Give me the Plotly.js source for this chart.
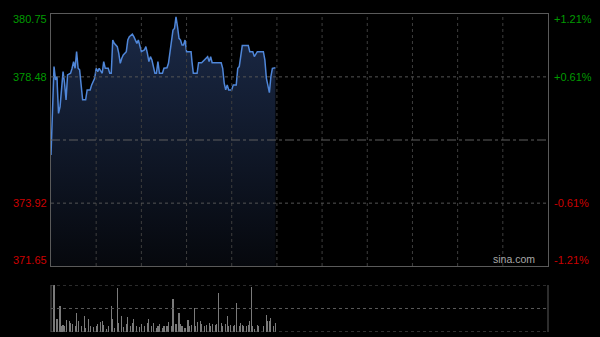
<!DOCTYPE html>
<html>
<head>
<meta charset="utf-8">
<script src="https://cdn.plot.ly/plotly-3.0.1.min.js"></script>
<style>
html,body{margin:0;padding:0;background:#000;}
#chart{width:600px;height:337px;}
</style>
</head>
<body>
<div id="chart"></div>
<script>
// Intraday (HK session, minutes since 09:30, lunch removed; 330 minutes total)
const prevClose = 376.20;
const priceLabelsLeft = ["380.75", "378.48", "373.92", "371.65"];
const priceLevels = [380.75, 378.48, 373.92, 371.65];
const pctLabelsRight = ["+1.21%", "+0.61%", "-0.61%", "-1.21%"];

const priceMinutes = [0,2,3,4,4.2,5,6,7,8,9,10,11,13,14,15,16,17,18,19,21,23,24,26,27,29,30,31,32,34,35,36,38,39,40,41,42,44,45,46,47,48,50,51,52,54,55,56,57,58,59,60,62,63,64,65,66,67,68,69,70,71,72,74,75,77,78,79,80,81,82,83,84,85,86,87,88,89,90,91,93,93.6,94.5,97,98,100,103,104,105,106,107,113,114,115,116,117,118,120,121,123,124,125,127,131,132,134,135,137,141,142,143,144,145,146,147,149];
const prices = [375.66,378.85,378.37,378.49,378.13,377.16,377.40,378.13,378.67,378.25,377.65,378.55,378.61,378.79,379.03,378.79,379.39,378.79,378.73,377.65,377.65,378.01,378.01,378.19,378.43,378.79,378.67,378.79,378.61,379.03,378.79,378.79,378.61,378.61,379.81,379.69,379.57,379.33,378.97,379.15,379.27,379.39,379.81,379.93,380.02,379.93,379.79,379.69,379.81,379.63,379.39,379.45,379.57,379.33,379.03,379.21,379.09,378.85,378.61,378.61,379.03,378.61,378.61,378.79,378.81,378.97,379.39,379.81,380.17,380.23,380.65,380.29,379.87,379.81,379.63,379.63,379.81,379.39,379.39,379.39,379.03,378.61,378.61,378.99,378.99,379.15,379.21,379.03,379.21,378.99,378.99,378.79,378.25,378.01,378.19,378.01,378.01,378.19,378.19,378.79,378.85,379.61,379.61,379.39,379.39,379.21,379.39,379.39,379.09,378.43,378.13,377.91,378.49,378.79,378.81];

const volMinutes = [2,4,6,7,8,9,10,12,13,14,16,17,18,20,22,23,25,26,28,30,31,33,34,35,37,38,40,41,42,44,45,47,48,50,51,53,54,55,57,59,60,62,64,65,67,68,70,71,72,74,75,77,78,80,81,83,85,86,87,89,91,92,93,95,96,97,99,100,102,103,105,106,107,109,110,111,113,114,116,117,118,119,121,122,123,125,126,127,128,130,131,132,133,134,135,137,138,141,143,144,145,146,148,149];
const volumes = [100,27,56,12,15,12,25,23,20,18,13,40,23,12,35,8,28,12,11,13,18,21,23,15,6,12,56,27,8,94,19,35,11,18,31,12,19,28,12,10,18,13,19,28,12,19,8,12,18,8,12,13,21,12,70,18,40,18,12,8,25,12,15,51,12,21,23,18,12,15,19,12,18,15,18,82,19,12,18,33,12,15,12,15,61,12,20,15,12,13,15,23,95,12,6,15,13,12,37,23,23,30,12,19];

const gridX = [30,60,90,120,150,180,210,240,270,300];
const gridY = [373.92, 378.48];

const green = "#009a00", red = "#cc0000";
const labelColors = [green, green, red, red];
const labelShifts = [-5, 0, 0, 6];

const annotations = [];
for (let i = 0; i < priceLevels.length; i++) {
  annotations.push({xref:"paper", yref:"y", x:0, y:priceLevels[i], xanchor:"right", yanchor:"middle",
    xshift:-2, yshift:labelShifts[i], text:priceLabelsLeft[i], showarrow:false,
    font:{family:"Liberation Sans, Arial, sans-serif", size:11, color:labelColors[i]}});
  annotations.push({xref:"paper", yref:"y", x:1, y:priceLevels[i], xanchor:"left", yanchor:"middle",
    xshift:4, yshift:labelShifts[i], text:pctLabelsRight[i], showarrow:false,
    font:{family:"Liberation Sans, Arial, sans-serif", size:11, color:labelColors[i]}});
}
annotations.push({xref:"paper", yref:"y", x:1, y:371.65, xanchor:"right", yanchor:"bottom",
  xshift:-11, yshift:-1, text:"sina.com", showarrow:false,
  font:{family:"Liberation Sans, Arial, sans-serif", size:10.5, color:"#a8a8a8"}});

const traces = [
  {x:priceMinutes, y:prices, type:"scatter", mode:"lines", xaxis:"x", yaxis:"y",
   line:{color:"#4f86d8", width:1.5}, fill:"tozeroy",
   fillgradient:{type:"vertical", start:371.65, stop:380.75,
     colorscale:[[0,"#06080d"],[1,"#1b2a48"]]},
   hoverinfo:"skip"},
  {x:volMinutes, y:volumes, type:"bar", xaxis:"x2", yaxis:"y2",
   marker:{color:"#7a7a7a", line:{width:0}}, width:0.75, hoverinfo:"skip"}
];

const shapes = [];
gridX.forEach(v => shapes.push({type:"line", xref:"x", yref:"y", x0:v, x1:v, y0:371.65, y1:380.75,
  line:{color:"#3e3e3e", width:1, dash:"dot"}}));
gridY.forEach(v => shapes.push({type:"line", xref:"paper", yref:"y", x0:0, x1:1, y0:v, y1:v,
  line:{color:"#555", width:1, dash:"dot"}}));
shapes.push({type:"line", xref:"paper", yref:"y", x0:0, x1:1, y0:prevClose, y1:prevClose,
  line:{color:"#5e5e5e", width:1, dash:"dashdot"}});
shapes.push({type:"line", xref:"paper", yref:"y2", x0:0, x1:1, y0:100, y1:100, line:{color:"#5a5a5a", width:1, dash:"dot"}});
shapes.push({type:"line", xref:"paper", yref:"y2", x0:0, x1:1, y0:50, y1:50, line:{color:"#5a5a5a", width:1, dash:"dot"}});
shapes.push({type:"line", xref:"paper", yref:"y2", x0:0, x1:1, y0:0, y1:0, line:{color:"#5a5a5a", width:1, dash:"dot"}});
shapes.push({type:"line", xref:"paper", yref:"y2", x0:0, x1:0, y0:0, y1:100, line:{color:"#5a5a5a", width:1}});
shapes.push({type:"line", xref:"paper", yref:"y2", x0:1, x1:1, y0:0, y1:100, line:{color:"#5a5a5a", width:1}});

const layout = {
  width:600, height:337,
  margin:{l:51, r:52, t:14, b:5},
  paper_bgcolor:"#000", plot_bgcolor:"#000",
  showlegend:false,
  bargap:0,
  xaxis:{domain:[0,1], range:[0,330], showticklabels:false, ticks:"",
    showgrid:false, zeroline:false,
    showline:true, linecolor:"#5a5a5a", linewidth:1, mirror:true, fixedrange:true, layer:"above traces"},
  yaxis:{domain:[0.2075,1], range:[371.65,380.75], showticklabels:false, ticks:"",
    showgrid:false, zeroline:false,
    showline:true, linecolor:"#5a5a5a", linewidth:1, mirror:true, fixedrange:true, layer:"above traces"},
  xaxis2:{domain:[0,1], anchor:"y2", range:[0,330], showticklabels:false, ticks:"",
    showgrid:false, zeroline:false, showline:false, fixedrange:true},
  yaxis2:{domain:[0,0.1478], anchor:"x2", range:[0,100], showticklabels:false, ticks:"",
    showgrid:false, zeroline:false, showline:false, fixedrange:true},
  shapes:shapes,
  annotations:annotations
};

Plotly.newPlot("chart", traces, layout, {staticPlot:true, displayModeBar:false});
</script>
</body>
</html>
